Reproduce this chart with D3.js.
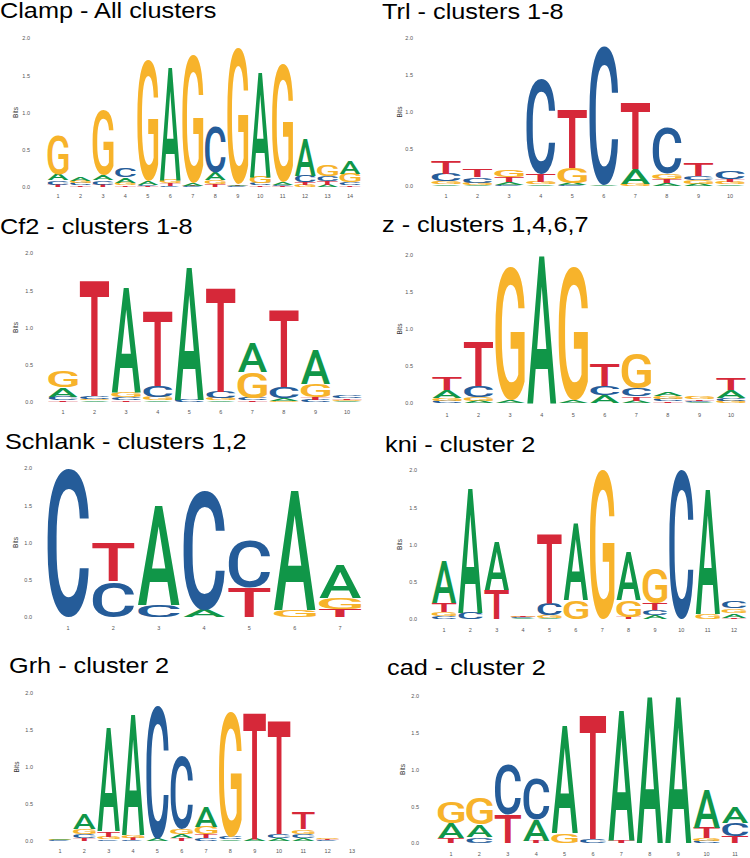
<!DOCTYPE html>
<html>
<head>
<meta charset="utf-8">
<script src="https://cdn.jsdelivr.net/npm/d3@7"></script>
<style>
	body{margin:0;background:#fff;}
	svg{display:block;}
	.title{font-family:"Liberation Sans",Arial,sans-serif;font-size:22px;fill:#000;}
	.axis text{font-family:"Liberation Sans",Arial,sans-serif;font-size:5.5px;fill:#555;}
	.bits{font-family:"Liberation Sans",Arial,sans-serif;font-size:6.5px;fill:#333;}
</style>
</head>
<body>
<div id="chart"></div>
<script>

//letters and colours (order A, C, G, T in every data row)
const bases = ["A","C","G","T"];
const baseColors = ["#109648","#255C99","#F7B32B","#D62839"];
const yTicks = [0, 0.5, 1, 1.5, 2];

const titles = [
	"Clamp - All clusters", "Trl - clusters 1-8",
	"Cf2 - clusters 1-8", "z - clusters 1,4,6,7",
	"Schlank - clusters 1,2", "kni - cluster 2",
	"Grh - cluster 2", "cad - cluster 2"
];

//bits per position: [A, C, G, T]
const clampBits = [
	[0.08,0.06,0.52,0.03],[0.05,0.03,0.03,0.02],[0.07,0.06,0.88,0.03],[0.07,0.13,0.04,0.02],
	[0.05,0.02,1.62,0.01],[1.53,0.02,0.05,0.03],[0.04,0.01,1.71,0.01],[0.10,0.61,0.05,0.04],
	[0.02,0.01,1.82,0.01],[1.42,0.03,0.08,0.02],[0.04,0.02,1.58,0.01],[0.50,0.08,0.03,0.04],
	[0.03,0.07,0.14,0.05],[0.17,0.04,0.12,0.02]
];
const trlBits = [
	[0.02,0.10,0.04,0.17],[0.01,0.08,0.03,0.10],[0.04,0.01,0.09,0.07],[0.02,1.28,0.04,0.10],
	[0.03,0.01,0.20,0.79],[0.02,1.86,0.00,0.00],[0.20,0.00,0.03,0.90],[0.04,0.63,0.08,0.05],
	[0.03,0.06,0.05,0.17],[0.02,0.10,0.03,0.04]
];
const cf2Bits = [
	[0.13,0.05,0.21,0.02],[0.02,0.04,0.02,1.56],[1.42,0.04,0.07,0.02],[0.02,0.14,0.05,1.00],
	[1.80,0.03,0.00,0.00],[0.02,0.08,0.03,1.40],[0.39,0.03,0.35,0.02],[0.03,0.15,0.02,1.04],
	[0.47,0.03,0.18,0.03],[0.01,0.04,0.02,0.02]
];
const zBits = [
	[0.10,0.03,0.04,0.18],[0.03,0.15,0.05,0.60],[0.04,0.00,1.79,0.00],[2.00,0.00,0.00,0.00],
	[0.04,0.00,1.79,0.00],[0.11,0.12,0.00,0.31],[0.03,0.11,0.47,0.06],[0.06,0.03,0.04,0.02],
	[0.01,0.02,0.03,0.02],[0.11,0.04,0.03,0.16]
];
const schlankBits = [
	[0.00,1.99,0.00,0.00],[0.00,0.48,0.00,0.52],[1.35,0.16,0.00,0.00],[0.10,1.60,0.00,0.00],
	[0.00,0.64,0.00,0.39],[1.61,0.00,0.09,0.00],[0.45,0.00,0.15,0.10]
];
const kniBits = [
	[0.57,0.04,0.05,0.12],[1.69,0.08,0.00,0.00],[0.65,0.00,0.00,0.39],[0.01,0.01,0.01,0.01],
	[0.01,0.17,0.04,0.94],[1.04,0.00,0.25,0.00],[0.00,0.00,2.00,0.00],[0.64,0.00,0.22,0.03],
	[0.05,0.07,0.47,0.09],[0.00,2.00,0.00,0.00],[1.69,0.00,0.07,0.00],[0.06,0.08,0.06,0.02]
];
const grhBits = [
	[0.02,0.01,0.01,0.00],[0.19,0.05,0.07,0.04],[1.40,0.02,0.04,0.07],[1.65,0.01,0.04,0.03],
	[0.03,1.80,0.00,0.00],[0.05,0.99,0.07,0.04],[0.26,0.04,0.10,0.05],[0.02,0.04,1.68,0.00],
	[0.03,0.00,0.00,1.72],[0.04,0.05,0.00,1.53],[0.04,0.06,0.06,0.24],[0.00,0.01,0.02,0.01],
	[0.00,0.00,0.00,0.00]
];
const cadBits = [
	[0.20,0.00,0.30,0.07],[0.17,0.08,0.37,0.00],[0.00,0.68,0.00,0.38],[0.29,0.56,0.00,0.03],
	[1.47,0.00,0.13,0.00],[0.00,0.06,0.00,1.70],[1.78,0.00,0.00,0.04],[2.00,0.00,0.00,0.00],
	[2.00,0.00,0.00,0.00],[0.53,0.03,0.04,0.14],[0.22,0.18,0.00,0.09]
];

const motifs = [clampBits, trlBits, cf2Bits, zBits, schlankBits, kniBits, grhBits, cadBits];

//panel placement: first/last position centre, y of 0 and 2 bits, label positions
const layout = [
	{c1:58,  cN:350, y0:187, y2:38,  tickX:30,  bitsX:18,  tx:0,   ty:18,  xl:197},
	{c1:446, cN:730, y0:186, y2:38,  tickX:413, bitsX:402, tx:382, ty:19,  xl:197},
	{c1:63,  cN:347, y0:402, y2:253, tickX:33,  bitsX:18,  tx:0,   ty:234, xl:413},
	{c1:447, cN:731, y0:403, y2:255, tickX:413, bitsX:402, tx:382, ty:232, xl:416},
	{c1:68,  cN:340, y0:617, y2:468, tickX:32,  bitsX:18,  tx:5,   ty:449, xl:629},
	{c1:444, cN:734, y0:619, y2:470, tickX:417, bitsX:402, tx:385, ty:452, xl:631},
	{c1:60,  cN:352, y0:841, y2:693, tickX:33,  bitsX:19,  tx:9,   ty:673, xl:852},
	{c1:451, cN:735, y0:843, y2:696, tickX:419, bitsX:405, tx:387, ty:675, xl:855}
];

const width = 750, height = 858;

const svg = d3.select("#chart")
	.append("svg")
	.attr("width", width)
	.attr("height", height);

//measure the ink box of each letter so it can be stretched to fill its tile
const letterFont = "500 100px Roboto";
const ctx = document.createElement("canvas").getContext("2d");
ctx.font = letterFont;
const glyph = {};
bases.forEach((b)=>{
	const m = ctx.measureText(b);
	glyph[b] = {l:m.actualBoundingBoxLeft, r:m.actualBoundingBoxRight,
		a:m.actualBoundingBoxAscent, d:m.actualBoundingBoxDescent};
});

motifs.forEach((data, i)=>{
	const L = layout[i];
	const n = data.length;
	const step = (L.cN - L.c1)/(n-1);

	const xScale = d3.scaleBand()
		.domain(d3.range(1, n+1))
		.range([L.c1 - step/2, L.cN + step/2])
		.padding(0);

	const yScale = d3.scaleLinear()
		.domain([0, 2])
		.range([L.y0, L.y2]);

	const g = svg.append("g").attr("class", "panel");

	//title (the source figure is a little stretched sideways)
	g.append("text")
		.attr("class", "title")
		.attr("transform", `translate(${L.tx},${L.ty}) scale(1.15,1)`)
		.text(titles[i]);

	//y axis
	const yAxis = d3.axisLeft(yScale)
		.tickValues(yTicks)
		.tickFormat(d3.format(".1f"))
		.tickSize(0)
		.tickPadding(0);
	g.append("g")
		.attr("class", "axis")
		.attr("transform", `translate(${L.tickX},0)`)
		.call(yAxis)
		.call(a=>a.select(".domain").remove());

	//x axis
	const xAxis = d3.axisBottom(xScale).tickSize(0).tickPadding(0);
	g.append("g")
		.attr("class", "axis")
		.attr("transform", `translate(0,${L.xl - 3})`)
		.call(xAxis)
		.call(a=>a.select(".domain").remove());

	//Bits label
	g.append("text")
		.attr("class", "bits")
		.attr("text-anchor", "middle")
		.attr("transform", `translate(${L.bitsX},${yScale(1)}) rotate(-90)`)
		.text("Bits");

	//letter stacks, smallest at the bottom
	const letters = [];
	data.forEach((row, p)=>{
		const sorted = bases.map((b, k)=>({b:b, k:k, v:row[k]}))
			.filter(d=>d.v > 0)
			.sort((a, b)=>a.v - b.v);
		let cum = 0;
		sorted.forEach((d)=>{
			letters.push({pos:p+1, b:d.b, k:d.k, lo:cum, hi:cum + d.v});
			cum += d.v;
		});
	});

	const bw = xScale.bandwidth()*0.93;

	g.selectAll(".letter")
		.data(letters)
		.enter()
		.append("text")
		.attr("class", "letter")
		.style("font", letterFont)
		.attr("fill", d=>baseColors[d.k])
		.attr("transform", (d)=>{
			const gl = glyph[d.b];
			const x0 = xScale(d.pos) + (xScale.bandwidth() - bw)/2;
			const yBot = yScale(d.lo), yTop = yScale(d.hi);
			const sx = bw/(gl.l + gl.r);
			const sy = (yBot - yTop)/(gl.a + gl.d);
			return `translate(${x0 + gl.l*sx},${yBot - gl.d*sy}) scale(${sx},${sy})`;
		})
		.text(d=>d.b);
});

</script>
</body>
</html>
